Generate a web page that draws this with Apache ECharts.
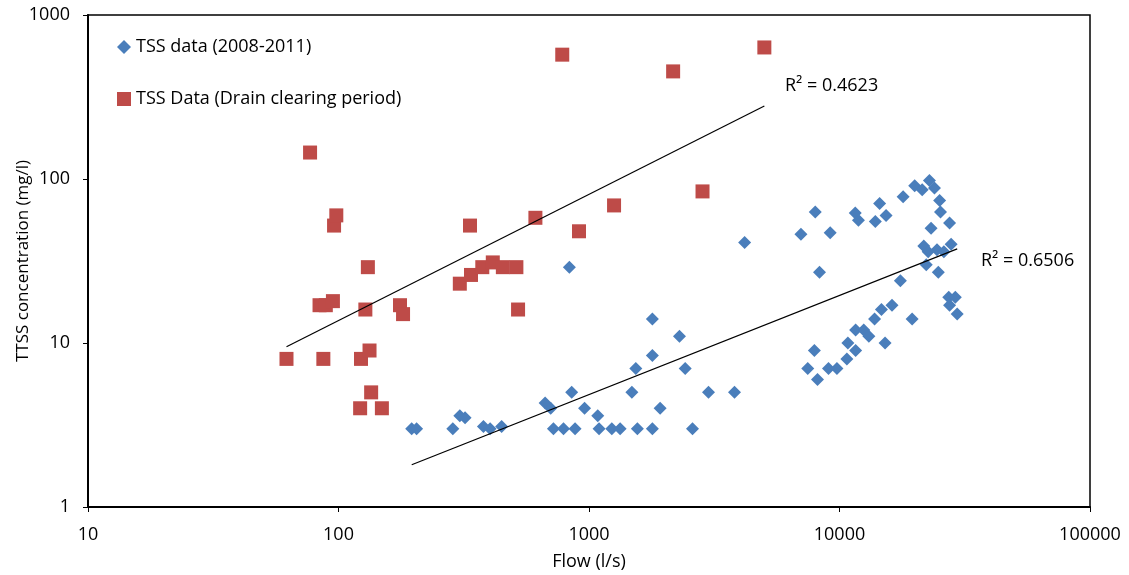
<!DOCTYPE html>
<html>
<head>
<meta charset="utf-8">
<script src="https://cdn.jsdelivr.net/npm/echarts@6/dist/echarts.min.js"></script>
<style>
  html, body { margin: 0; padding: 0; background: #fff; }
  #chart { width: 1129px; height: 575px; }
</style>
</head>
<body>
<div id="chart"></div>
<script>
// Flow (l/s) and TSS concentration (mg/l), routine monitoring 2008-2011
const tssFlow = [196, 205, 286, 305, 320, 379, 403, 448, 668, 703, 721, 791, 880, 835, 853, 960,
  1084, 1097, 1233, 1331, 1483, 1538, 1560, 1791, 1791, 1791, 1923, 2297, 2421, 2589, 3000, 3810,
  4180, 7015, 7470, 7940, 8000, 8170, 8320, 9040, 9180, 9770, 10700, 10800, 11560, 11600, 11600,
  11900, 12500, 13100, 13800, 13900, 14460, 14700, 15200, 15340, 16200, 17500, 17950, 19500, 19960,
  21380, 21700, 22200, 22600, 22860, 23200, 23940, 24500, 24800, 25100, 25300, 26100, 27300, 27500,
  27500, 27900, 29000, 29500];
const tssConc = [3, 3, 3, 3.6, 3.5, 3.1, 3.0, 3.1, 4.3, 4.0, 3, 3, 3, 29, 5, 4,
  3.6, 3, 3, 3, 5, 7, 3, 14, 8.4, 3, 4, 11, 7, 3, 5, 5,
  41, 46, 7, 9, 63, 6, 27, 7, 47, 7, 8, 10, 62, 12, 9,
  56, 12, 11, 14, 55, 71, 16, 10, 60, 17, 24, 78, 14, 91,
  86, 39, 30, 36, 98, 50, 88, 37, 27, 74, 63, 36, 19, 17,
  54, 40, 19, 15];

// Flow (l/s) and TSS concentration (mg/l) during the drain clearing period
const drainFlow = [62, 77, 84, 89, 95, 96, 98, 87, 123, 128, 131, 133, 135, 122, 149, 176, 181,
  305, 335, 338, 375, 413, 453, 513, 521, 611, 782, 912, 1259, 2167, 2839, 5012];
const drainConc = [8, 145, 17, 17, 18, 52, 60, 8, 8, 16, 29, 9, 5, 4, 4, 17, 15,
  23, 52, 26, 29, 31, 29, 29, 16, 58, 573, 48, 69, 453, 84, 634];

const xTicks = [10, 100, 1000, 10000, 100000];
const yTicks = [1, 10, 100, 1000];

const seriesNames = ['TSS data (2008-2011)', 'TSS Data (Drain clearing period)'];
const r2Labels = ['R\u00B2 = 0.6506', 'R\u00B2 = 0.4623'];

const FONT = '"Open Sans", "Noto Sans", sans-serif';

function pairs(xs, ys) { return xs.map((x, i) => [x, ys[i]]); }

// Power-law trend y = a * x^b, fitted by least squares on log10 values
function powerTrend(xs, ys) {
  const lx = xs.map(Math.log10), ly = ys.map(Math.log10);
  const n = lx.length;
  const mx = lx.reduce((s, v) => s + v, 0) / n;
  const my = ly.reduce((s, v) => s + v, 0) / n;
  let sxy = 0, sxx = 0;
  for (let i = 0; i < n; i++) { sxy += (lx[i] - mx) * (ly[i] - my); sxx += (lx[i] - mx) ** 2; }
  const b = sxy / sxx, la = my - b * mx;
  const x0 = Math.min(...xs), x1 = Math.max(...xs);
  return [[x0, Math.pow(10, la + b * Math.log10(x0))], [x1, Math.pow(10, la + b * Math.log10(x1))]];
}

const chart = echarts.init(document.getElementById('chart'), null, { renderer: 'canvas' });

const axisText = { color: '#000', fontFamily: FONT, fontSize: 18 };

chart.setOption({
  animation: false,
  backgroundColor: '#fff',
  grid: {
    left: 88, right: 39, top: 15, bottom: 68,
    outerBoundsMode: 'none', containLabel: false,
    show: true, borderColor: '#000', borderWidth: 1.5
  },
  legend: {
    orient: 'vertical', left: 112, top: 33, itemGap: 34,
    itemWidth: 14, itemHeight: 14,
    textStyle: { color: '#000', fontFamily: FONT, fontSize: 18 },
    data: seriesNames
  },
  xAxis: {
    type: 'log', logBase: 10, min: xTicks[0], max: xTicks[xTicks.length - 1],
    name: 'Flow (l/s)', nameLocation: 'middle', nameGap: 46,
    nameTextStyle: axisText,
    axisLine: { onZero: false, lineStyle: { color: '#000', width: 2 } },
    axisTick: { show: true, inside: false, length: 5, lineStyle: { color: '#000', width: 1 } },
    minorTick: { show: false },
    splitLine: { show: false },
    axisLabel: { ...axisText, margin: 19, formatter: v => String(Math.round(v)) }
  },
  yAxis: {
    type: 'log', logBase: 10, min: yTicks[0], max: yTicks[yTicks.length - 1],
    name: 'TTSS concentration (mg/l)', nameLocation: 'middle', nameGap: 56,
    nameMoveOverlap: false,
    nameTextStyle: { ...axisText, fontSize: 17 },
    axisLine: { onZero: false, lineStyle: { color: '#000', width: 2 } },
    axisTick: { show: true, inside: false, length: 5, lineStyle: { color: '#000', width: 1 } },
    minorTick: { show: false },
    splitLine: { show: false },
    axisLabel: { ...axisText, margin: 18, formatter: v => String(Math.round(v)) }
  },
  series: [
    {
      name: seriesNames[0], type: 'scatter', symbol: 'diamond', symbolSize: 13,
      itemStyle: { color: '#4A7EBB', opacity: 1 },
      data: pairs(tssFlow, tssConc), z: 3
    },
    {
      name: seriesNames[1], type: 'scatter', symbol: 'rect', symbolSize: 14,
      itemStyle: { color: '#BE4B48', opacity: 1 },
      data: pairs(drainFlow, drainConc), z: 3
    },
    {
      name: 'trend-tss', type: 'line', symbol: 'none', silent: true,
      lineStyle: { color: '#000', width: 1.2 },
      data: powerTrend(tssFlow, tssConc), z: 4
    },
    {
      name: 'trend-drain', type: 'line', symbol: 'none', silent: true,
      lineStyle: { color: '#000', width: 1.2 },
      data: powerTrend(drainFlow, drainConc), z: 4
    }
  ],
  graphic: [
    { type: 'text', left: 785, top: 77, style: { text: r2Labels[1], fill: '#000', font: '18px ' + FONT } },
    { type: 'text', left: 981, top: 252, style: { text: r2Labels[0], fill: '#000', font: '18px ' + FONT } }
  ]
});
</script>
</body>
</html>
